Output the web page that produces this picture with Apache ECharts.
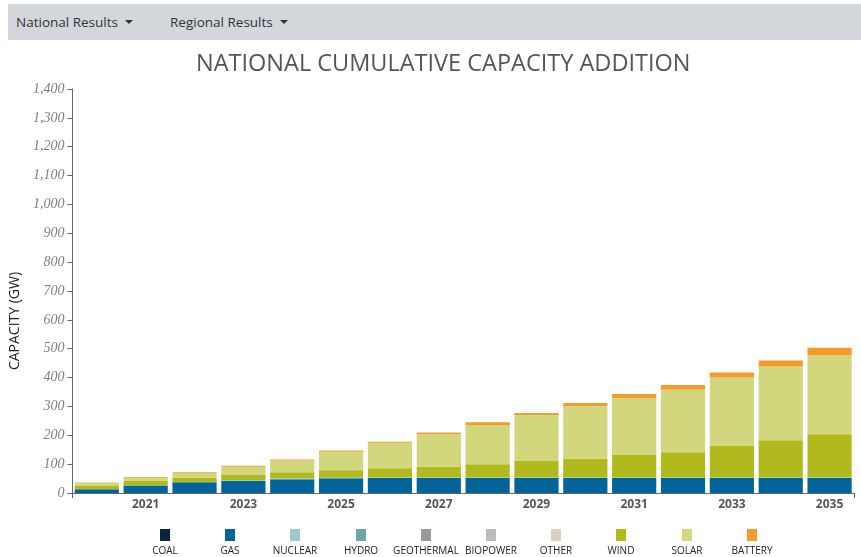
<!DOCTYPE html>
<html>
<head>
<meta charset="utf-8">
<script src="https://cdn.jsdelivr.net/npm/echarts@6/dist/echarts.min.js"></script>
<style>
  html, body { margin: 0; padding: 0; background: #fff; width: 861px; height: 557px; overflow: hidden; }
  #nav { position: absolute; left: 8px; right: 0; top: 4px; height: 36px; background: #d3d7dc;
         font-family: "Open Sans", sans-serif; font-size: 13.5px; color: #333; }
  #nav span { position: absolute; top: 9px; }
  .caret { display: inline-block; width: 0; height: 0; margin-left: 7px; vertical-align: 3px;
           border-top: 4px solid #333; border-left: 4px solid transparent; border-right: 4px solid transparent; }
  #chart { position: absolute; left: 0; top: 0; width: 861px; height: 557px; }
</style>
</head>
<body>
<div id="chart"></div>
<div id="nav">
  <span style="left:8px">National Results<i class="caret"></i></span>
  <span style="left:162px">Regional Results<i class="caret"></i></span>
</div>
<script>
// Cumulative capacity additions by technology, GW
const years = ['2020','2021','2022','2023','2024','2025','2026','2027','2028','2029','2030','2031','2032','2033','2034','2035'];
const coal       = [0,0,0,0,0,0,0,0,0,0,0,0,0,0,0,0];
const gas        = [13,26,37,42,48,51,52,52,52,52,52,52,52,52,52,52];
const nuclear    = [0,0,0,2,2,2,2,2,2,2,2,2,2,2,2,2];
const hydro      = [0,0,0,0,0,0,0,0,0,0,0,0,0,0,0,0];
const geothermal = [0,0,0,0,0,0,0,0,0,0,0,0,0,0,0,0];
const biopower   = [0,0,0,0,0,0,0,0,0,0,0,0,0,0,0,0];
const other      = [0,0,0,0,0,0,0,0,0,0,0,0,0,0,0,0];
const wind       = [11,16,16,18,22,26,32,37,46,57,65,79,87,109,129,150];
const solar      = [13,10,16,29,41,64,88,113,136,159,182,196,217,237,255,273];
const battery    = [0.5,3,3,3,3,4,4,6,9,7,11,14,16,18,21,26];
const yTicks     = [0,100,200,300,400,500,600,700,800,900,1000,1100,1200,1300,1400];

const techs = [
  { key: 'coal',   name: 'COAL',       color: '#0c2340', data: coal },
  { key: 'gas',    name: 'GAS',        color: '#01649b', data: gas },
  { key: 'nuc',    name: 'NUCLEAR',    color: '#9ccac8', data: nuclear },
  { key: 'hyd',    name: 'HYDRO',      color: '#6aa9a4', data: hydro },
  { key: 'geo',    name: 'GEOTHERMAL', color: '#999999', data: geothermal },
  { key: 'bio',    name: 'BIOPOWER',   color: '#bcbcbc', data: biopower },
  { key: 'oth',    name: 'OTHER',      color: '#dccfbf', data: other },
  { key: 'wind',   name: 'WIND',       color: '#b1b91d', data: wind },
  { key: 'solar',  name: 'SOLAR',      color: '#d2d77d', data: solar },
  { key: 'bat',    name: 'BATTERY',    color: '#f49b2a', data: battery }
];

// Legend: colour square above each label, one legend block per technology
const legendRich = {
  sp:  { width: 26, height: 12 },
  lbl: { width: 62, align: 'center', fontSize: 10, color: '#222', fontFamily: 'Open Sans, sans-serif', padding: [5, 0, 0, 0] }
};
techs.forEach(t => { legendRich[t.key] = { width: 10, height: 12, backgroundColor: t.color }; });
const keyOf = {};
techs.forEach(t => { keyOf[t.name] = t.key; });

const legendFirstCenter = 165;
const legendPitch = 65.2;
const legends = techs.map((t, i) => ({
  data: [t.name],
  left: Math.round(legendFirstCenter + i * legendPitch - 41),
  top: 524,
  itemWidth: 0, itemHeight: 0,
  icon: 'rect',
  selectedMode: false,
  formatter: n => '{sp|}{' + keyOf[n] + '|}\n{lbl|' + n + '}',
  textStyle: { rich: legendRich }
}));

const chart = echarts.init(document.getElementById('chart'), null, { renderer: 'canvas' });
chart.setOption({
  animation: false,
  title: {
    text: 'NATIONAL CUMULATIVE CAPACITY ADDITION',
    left: 191, top: 47,
    textStyle: { fontFamily: 'Open Sans, sans-serif', fontWeight: 'normal', fontSize: 23.5, color: '#555' }
  },
  grid: { left: 72, right: 7, top: 89, bottom: 64 },
  legend: legends,
  xAxis: [{
    type: 'category',
    data: years,
    axisLine: { lineStyle: { color: '#666', width: 1 } },
    axisTick: { alignWithLabel: true, length: 5, lineStyle: { color: '#666' }, interval: i => i % 2 === 1 },
    axisLabel: { interval: i => i % 2 === 1, fontFamily: 'Open Sans, sans-serif', fontWeight: 'bold', fontSize: 12, color: '#555', margin: 6 }
  }, {
    // end ticks of the axis domain
    type: 'value', min: 0, max: 16, interval: 16, position: 'bottom',
    axisLine: { show: false }, splitLine: { show: false },
    axisTick: { show: true, length: 5, lineStyle: { color: '#666' } },
    axisLabel: { show: false }
  }],
  yAxis: {
    type: 'value', min: 0, max: 1400, interval: 100,
    name: 'CAPACITY (GW)', nameLocation: 'middle', nameGap: 50,
    nameTextStyle: { fontFamily: 'Open Sans, sans-serif', fontSize: 14, color: '#222', padding: [0, 60, 0, 0] },
    axisLine: { show: true, lineStyle: { color: '#666' } },
    axisTick: { show: true, length: 5, lineStyle: { color: '#666' } },
    splitLine: { show: false },
    axisLabel: {
      margin: 8,
      fontFamily: 'Liberation Serif, serif', fontStyle: 'italic', fontSize: 14, color: '#808080',
      formatter: v => yTicks.includes(v) ? v.toLocaleString('en-US') : ''
    }
  },
  series: techs.map(t => ({
    name: t.name, type: 'bar', stack: 'cap', xAxisIndex: 0,
    data: t.data, itemStyle: { color: t.color },
    barCategoryGap: '9.5%'
  }))
});
</script>
</body>
</html>
